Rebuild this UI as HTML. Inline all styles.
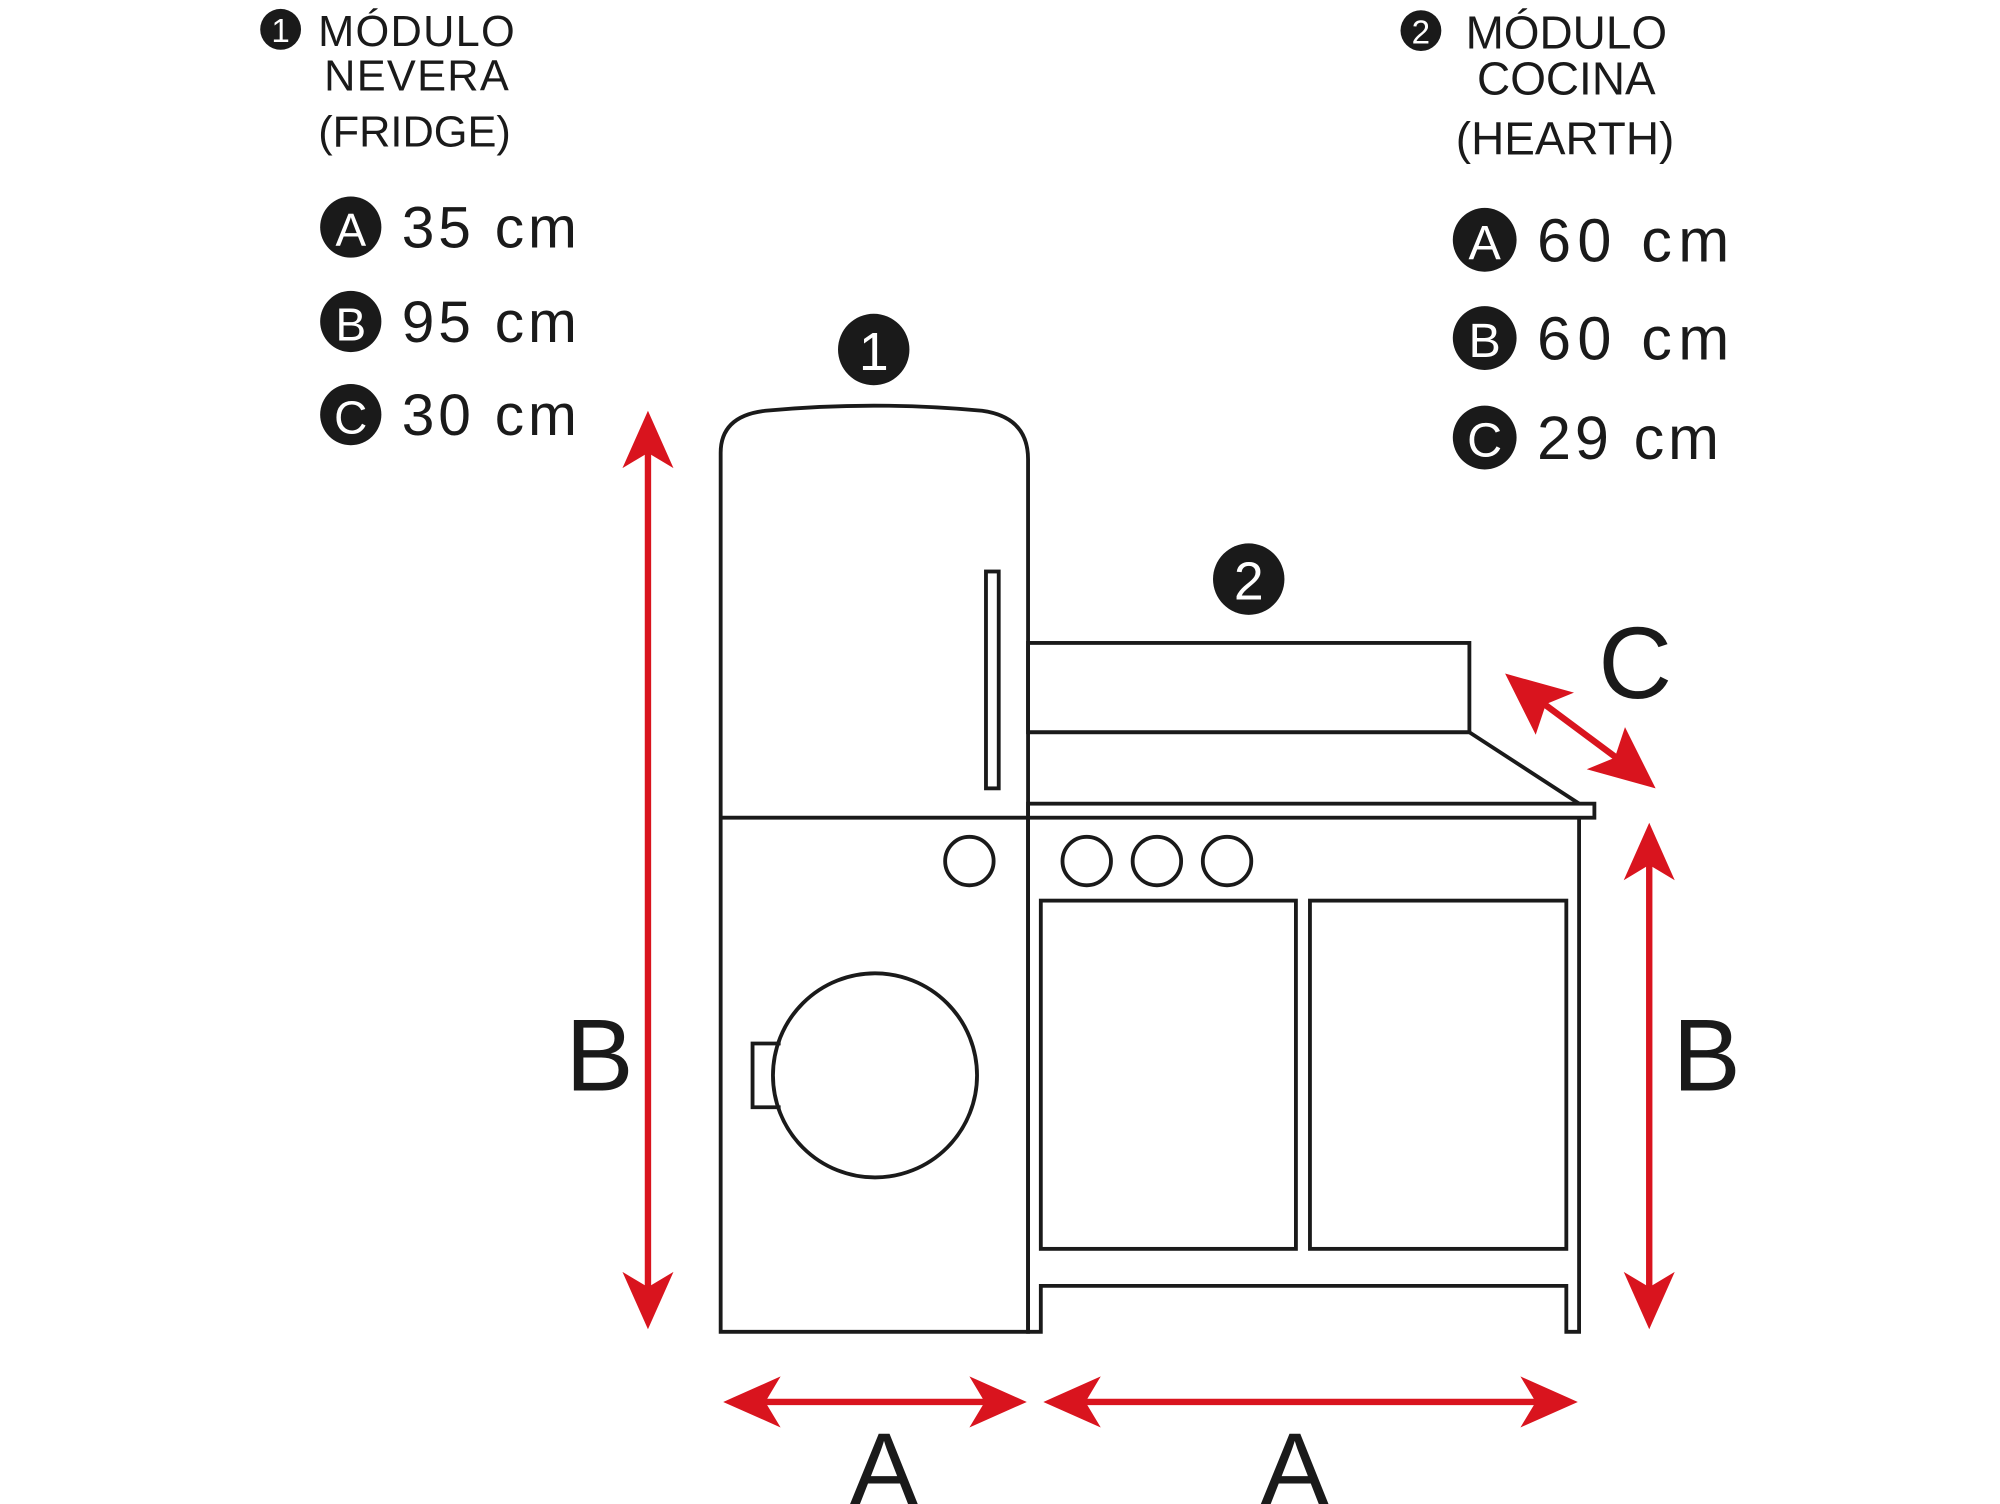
<!DOCTYPE html>
<html><head><meta charset="utf-8"><style>
html,body{margin:0;padding:0;background:#fff;}
svg{display:block;}
text{font-family:"Liberation Sans","DejaVu Sans",sans-serif;}
</style></head><body>
<svg width="2000" height="1504" viewBox="0 0 1568 1179" preserveAspectRatio="none" xmlns="http://www.w3.org/2000/svg">
<rect width="1568" height="1179" fill="#fff"/>
<g fill="none" stroke="#1a1a1a" stroke-width="3">
  <path d="M565,1044 V355 Q565,326 600,322 Q685,314 770,322 Q806,327 806,360 V1044 Z"/>
  <line x1="565" y1="641" x2="806" y2="641"/>
  <rect x="773" y="448" width="10" height="170"/>
  <circle cx="760" cy="675" r="19"/>
  <circle cx="686" cy="843" r="80"/>
  <path d="M612,818 H590 V868 H612"/>
  <rect x="806" y="504" width="346" height="70"/>
  <path d="M806,574 H1152 L1238,630"/>
  <rect x="806" y="630" width="444" height="11"/>
  <path d="M806,641 V1044 H816 V1008 H1228 V1044 H1238 V641"/>
  <circle cx="852" cy="675" r="19"/>
  <circle cx="907" cy="675" r="19"/>
  <circle cx="962" cy="675" r="19"/>
  <rect x="816" y="706" width="200" height="273"/>
  <rect x="1027" y="706" width="201" height="273"/>
</g>
<g fill="#d9141e" stroke="#d9141e">
  <line x1="508" y1="350" x2="508" y2="1015" stroke-width="5"/>
  <polygon points="508,322 488,367 508,355 528,367" stroke="none"/>
  <polygon points="508,1042 488,997 508,1009 528,997" stroke="none"/>
  <line x1="1293" y1="672" x2="1293" y2="1015" stroke-width="5"/>
  <polygon points="1293,645 1273,690 1293,678 1313,690" stroke="none"/>
  <polygon points="1293,1042 1273,997 1293,1009 1313,997" stroke="none"/>
  <line x1="595" y1="1099" x2="778" y2="1099" stroke-width="5"/>
  <polygon points="567,1099 612,1079 600,1099 612,1119" stroke="none"/>
  <polygon points="805,1099 760,1079 772,1099 760,1119" stroke="none"/>
  <line x1="846" y1="1099" x2="1210" y2="1099" stroke-width="5"/>
  <polygon points="818,1099 863,1079 851,1099 863,1119" stroke="none"/>
  <polygon points="1237,1099 1192,1079 1204,1099 1192,1119" stroke="none"/>
  <line x1="1200" y1="544" x2="1278" y2="602" stroke-width="5"/>
  <polygon points="1180,528 1234,543 1212,552 1204,576" stroke="none"/>
  <polygon points="1298,618 1244,603 1266,594 1274,570" stroke="none"/>
</g>
<g fill="#1a1a1a" font-size="80">
  <text x="470" y="855" text-anchor="middle">B</text>
  <text x="1338" y="855" text-anchor="middle">B</text>
  <text x="693" y="1179" text-anchor="middle">A</text>
  <text x="1015" y="1179" text-anchor="middle">A</text>
  <text x="1282" y="547" text-anchor="middle">C</text>
</g>
<circle cx="685" cy="274" r="28" fill="#1a1a1a"/>
<text x="685" y="290" text-anchor="middle" font-size="42" fill="#fff">1</text>
<circle cx="979" cy="454" r="28" fill="#1a1a1a"/>
<text x="979" y="470" text-anchor="middle" font-size="42" fill="#fff">2</text>
<circle cx="220" cy="23" r="16" fill="#1a1a1a"/>
<text x="220" y="33" text-anchor="middle" font-size="26" fill="#fff">1</text>
<g fill="#1a1a1a" font-size="34" text-anchor="middle">
  <text x="327" y="36" letter-spacing="1">MÓDULO</text>
  <text x="327" y="71" letter-spacing="1">NEVERA</text>
  <text x="325" y="115">(FRIDGE)</text>
</g>
<g font-size="46" fill="#1a1a1a">
  <circle cx="275" cy="178" r="24"/><text x="275" y="193" text-anchor="middle" font-size="36" fill="#fff">A</text>
  <text x="315" y="194" letter-spacing="3">35 cm</text>
  <circle cx="275" cy="252" r="24"/><text x="275" y="267" text-anchor="middle" font-size="36" fill="#fff">B</text>
  <text x="315" y="268" letter-spacing="3">95 cm</text>
  <circle cx="275" cy="325" r="24"/><text x="275" y="340" text-anchor="middle" font-size="36" fill="#fff">C</text>
  <text x="315" y="341" letter-spacing="3">30 cm</text>
</g>
<circle cx="1114" cy="24" r="16" fill="#1a1a1a"/>
<text x="1114" y="34" text-anchor="middle" font-size="26" fill="#fff">2</text>
<g fill="#1a1a1a" font-size="36" text-anchor="middle">
  <text x="1228" y="38">MÓDULO</text>
  <text x="1228" y="74">COCINA</text>
  <text x="1227" y="121">(HEARTH)</text>
</g>
<g font-size="48" fill="#1a1a1a">
  <circle cx="1164" cy="188" r="25"/><text x="1164" y="203" text-anchor="middle" font-size="38" fill="#fff">A</text>
  <text x="1205" y="205" letter-spacing="5">60 cm</text>
  <circle cx="1164" cy="265" r="25"/><text x="1164" y="280" text-anchor="middle" font-size="38" fill="#fff">B</text>
  <text x="1205" y="282" letter-spacing="5">60 cm</text>
  <circle cx="1164" cy="343" r="25"/><text x="1164" y="358" text-anchor="middle" font-size="38" fill="#fff">C</text>
  <text x="1205" y="360" letter-spacing="3">29 cm</text>
</g>
</svg>
</body></html>
